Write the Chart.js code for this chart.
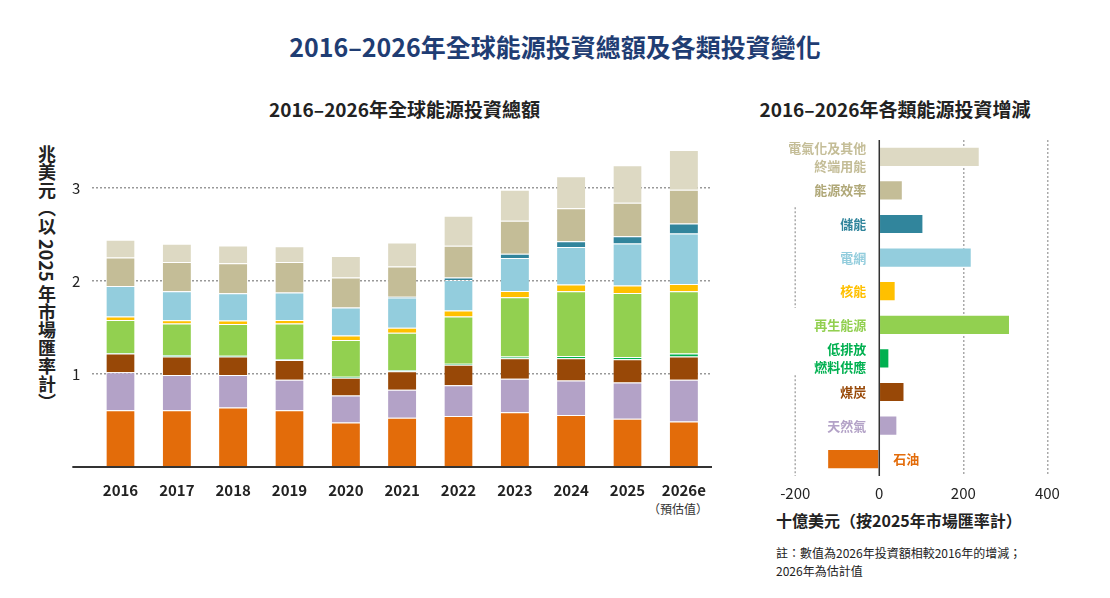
<!DOCTYPE html>
<html><head><meta charset="utf-8">
<script src="https://cdn.jsdelivr.net/npm/chart.js@4"></script>
<style>
body{margin:0;width:1110px;height:598px;background:#fff;position:relative;font-family:"Noto Sans CJK TC","Noto Sans",sans-serif;overflow:hidden}
.t{position:absolute;white-space:nowrap}
</style></head><body>
<div class="t" style="left:0;width:1110px;top:28px;text-align:center;font-size:25px;font-weight:bold;color:#1f3d73">2016–2026年全球能源投資總額及各類投資變化</div>
<div class="t" style="left:97px;width:615px;top:95px;text-align:center;font-size:19px;font-weight:bold;color:#222">2016–2026年全球能源投資總額</div>
<div class="t" style="left:730px;width:330px;top:95px;text-align:center;font-size:19px;font-weight:bold;color:#222">2016–2026年各類能源投資增減</div>
<div class="t" style="left:34px;top:145px;writing-mode:vertical-rl;text-orientation:mixed;font-size:18px;font-weight:bold;color:#222">兆美元（以 2025 年市場匯率計）</div>
<div class="t" style="left:648px;top:500px;font-size:12px;color:#333">（預估值）</div>
<div class="t" style="left:776px;top:508px;font-size:16px;font-weight:bold;color:#222">十億美元（按2025年市場匯率計）</div>
<div class="t" style="left:776px;top:544px;font-size:12px;color:#222;line-height:18px">註：數值為2026年投資額相較2016年的增減；<br>2026年為估計值</div>
<div style="position:absolute;left:60px;top:130px;width:660px;height:375px"><canvas id="left"></canvas></div>
<div style="position:absolute;left:770px;top:130px;width:300px;height:380px"><canvas id="right"></canvas></div>
<script>
// years and stacked series (trillion USD)
const years = ["2016","2017","2018","2019","2020","2021","2022","2023","2024","2025","2026e"];
const oil        = [0.61,0.61,0.64,0.61,0.48,0.53,0.55,0.59,0.56,0.52,0.49];
const gas        = [0.41,0.38,0.35,0.33,0.29,0.30,0.33,0.36,0.37,0.39,0.45];
const coal       = [0.20,0.20,0.20,0.21,0.19,0.20,0.22,0.22,0.24,0.25,0.25];
const lowFuel    = [0.007,0.013,0.007,0.01,0.01,0.01,0.011,0.018,0.024,0.024,0.031];
const renewables = [0.355,0.342,0.341,0.383,0.397,0.404,0.507,0.638,0.696,0.689,0.669];
const nuclear    = [0.038,0.034,0.038,0.038,0.048,0.055,0.065,0.069,0.073,0.08,0.079];
const grids      = [0.328,0.311,0.293,0.296,0.30,0.324,0.328,0.355,0.403,0.451,0.542];
const storage    = [0,0,0,0,0,0.01,0.027,0.045,0.062,0.08,0.11];
const efficiency = [0.307,0.317,0.324,0.328,0.324,0.325,0.342,0.355,0.355,0.358,0.362];
const electrif   = [0.19,0.196,0.19,0.169,0.231,0.258,0.324,0.334,0.345,0.404,0.428];
const yTicks = [1,2,3];

// change 2016 -> 2026 (billion USD)
const categories = [["電氣化及其他","終端用能"],"能源效率","儲能","電網","核能","再生能源",["低排放","燃料供應"],"煤炭","天然氣","石油"];
const changes = [239,56,105,220,39,311,24,60,43,-124];
const xTicks = [-200,0,200,400];

const colors = ["#ddd9c3","#c4bd97","#31859c","#93cddd","#ffc000","#92d050","#00b050","#984807","#b3a2c7","#e36c0a"];
const labelColors = ["#c4bd97","#b0a878","#31859c","#93cddd","#ffc000","#92d050","#00b050","#984807","#b3a2c7","#e36c0a"];

const stackSeries = [oil,gas,coal,lowFuel,renewables,nuclear,grids,storage,efficiency,electrif];
const stackColors = colors.slice().reverse();
const font = {family:'"Noto Sans CJK TC","Noto Sans",sans-serif'};

const baseline = {
  id:'baseline',
  afterDatasetsDraw(c){
    const {ctx,chartArea:a,scales:{y}} = c;
    const py = y.getPixelForValue(0);
    ctx.save();ctx.strokeStyle='#333';ctx.lineWidth=2;
    ctx.beginPath();ctx.moveTo(a.left-20,py);ctx.lineTo(a.right,py);ctx.stroke();ctx.restore();
  }
};

new Chart(document.getElementById('left'),{
  type:'bar',
  data:{labels:years,datasets:stackSeries.map((d,i)=>({data:d,backgroundColor:stackColors[i],borderColor:'rgba(255,255,255,0.35)',borderWidth:{top:1},barPercentage:0.5,categoryPercentage:1}))},
  options:{
    responsive:true,maintainAspectRatio:false,animation:false,
    layout:{padding:{left:0,right:8,top:10}},
    plugins:{legend:{display:false},tooltip:{enabled:false}},
    scales:{
      x:{stacked:true,grid:{display:false},border:{display:false},
         ticks:{color:'#222',font:{...font,size:15,weight:'bold'},padding:6}},
      y:{stacked:true,min:0,max:3.4,afterBuildTicks:s=>{s.ticks=yTicks.map(v=>({value:v}));},
         grid:{color:'#999',lineWidth:1.5,drawTicks:false},border:{display:false,dash:[2,2]},
         ticks:{color:'#222',font:{...font,size:15},padding:12}}
    }
  },
  plugins:[baseline]
});

const rightDecor = {
  id:'rightDecor',
  afterDatasetsDraw(c){
    const {ctx,chartArea:a,scales:{x,y}} = c;
    const x0 = x.getPixelForValue(0);
    ctx.save();
    ctx.strokeStyle='#333';ctx.lineWidth=1.5;
    ctx.beginPath();ctx.moveTo(x0,a.top);ctx.lineTo(x0,a.bottom);ctx.stroke();
    // dotted group brackets
    ctx.strokeStyle='#aaa';ctx.setLineDash([2,2]);ctx.lineWidth=1.5;
    const xb = x.getPixelForValue(-200);
    const step = (y.getPixelForValue(1)-y.getPixelForValue(0));
    [[2,4],[7,9]].forEach(([s,e])=>{
      ctx.beginPath();ctx.moveTo(xb,y.getPixelForValue(s)-step*0.5);ctx.lineTo(xb,y.getPixelForValue(e)+step*0.5);ctx.stroke();
    });
    ctx.setLineDash([]);
    ctx.font='bold 13px "Noto Sans CJK TC",sans-serif';
    ctx.textBaseline='middle';
    categories.forEach((lab,i)=>{
      const py = y.getPixelForValue(i);
      const lines = Array.isArray(lab)?lab:[lab];
      ctx.fillStyle = labelColors[i];
      if(changes[i]<0){ctx.textAlign='left';lines.forEach((l,k)=>ctx.fillText(l,x0+14,py+(k-(lines.length-1)/2)*18));}
      else{ctx.textAlign='right';lines.forEach((l,k)=>ctx.fillText(l,x0-13,py+(k-(lines.length-1)/2)*18));}
    });
    ctx.restore();
  }
};

new Chart(document.getElementById('right'),{
  type:'bar',
  data:{labels:categories.map(c=>Array.isArray(c)?c.join(''):c),datasets:[{data:changes,backgroundColor:colors,borderColor:'rgba(255,255,255,0.4)',borderWidth:1,barPercentage:0.6,categoryPercentage:1}]},
  options:{
    indexAxis:'y',responsive:true,maintainAspectRatio:false,animation:false,
    layout:{padding:{left:0,right:10,top:10}},
    plugins:{legend:{display:false},tooltip:{enabled:false}},
    scales:{
      y:{display:false},
      x:{min:-260,max:430,afterBuildTicks:s=>{s.ticks=xTicks.map(v=>({value:v}));},
         grid:{color:c=>(c.tick&&c.tick.value>0)?'#aaa':'rgba(0,0,0,0)',lineWidth:1.5,drawTicks:false},
         border:{display:false,dash:[2,2]},
         ticks:{color:'#222',font:{...font,size:15},padding:8}}
    }
  },
  plugins:[rightDecor]
});
</script>
</body></html>
